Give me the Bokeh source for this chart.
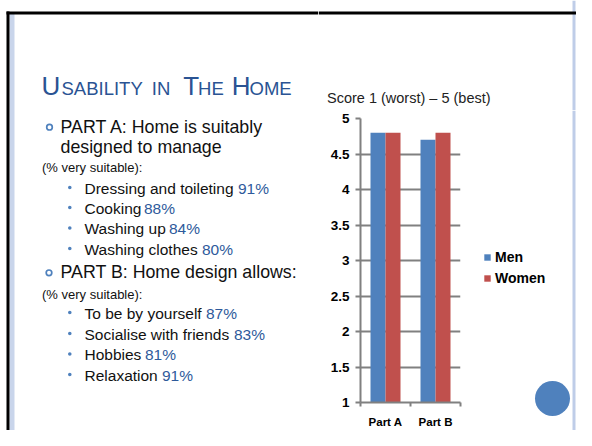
from bokeh.plotting import figure
from bokeh.layouts import row, column
from bokeh.models import (Range1d, FixedTicker, NumeralTickFormatter, CustomJSTickFormatter,
                          ColumnDataSource, Legend, LegendItem)
from bokeh.core.properties import value
from bokeh.embed import file_html
from bokeh.resources import INLINE

# ---------------- data ----------------
categories = ["Part A", "Part B"]
men = [4.8, 4.7]
women = [4.8, 4.8]
series_names = ["Men", "Women"]
y_ticks = [1, 1.5, 2, 2.5, 3, 3.5, 4, 4.5, 5]
chart_title = "Score 1 (worst) \u2013 5 (best)"

part_a_heading = ["PART A: Home is suitably", "designed to manage"]
part_a_items = ["Dressing and toileting", "Cooking", "Washing up", "Washing clothes"]
part_a_pct = [91, 88, 84, 80]
part_b_heading = ["PART B: Home design allows:"]
part_b_items = ["To be by yourself", "Socialise with friends", "Hobbies", "Relaxation"]
part_b_pct = [87, 83, 81, 91]
sub_note = "(% very suitable):"
title_big = ["U", "T", "H"]
title_small = ["SABILITY", "IN", "HE", "OME"]

# ---------------- layout (pixel positions on the slide) ----------------
W, H = 576, 430
LEFT_W = 318          # left text panel width
TOP_H = 110           # top strip height over the chart
CHART_R = 476         # right edge of chart canvas
BASE_SHIFT = 0.33     # baseline correction (fraction of font size)
title_big_x = [41, 182.7, 231.3]
title_small_x = [61, 151.3, 197.6, 249]
title_base = 94
pa_head_base = [132, 152]
pa_note_base = 171
pa_item_base = [193, 213, 233.5, 254]
pa_pct_x = [237.5, 143.5, 168.5, 201.5]
pb_head_base = [277]
pb_note_base = 298.5
pb_item_base = [318, 339, 359.5, 380]
pb_pct_x = [205.5, 233.5, 144.5, 161.5]

FONT = "Liberation Sans"
TXT = "#111111"
BLUE_TITLE = "#2A5393"
BLUE_PCT = "#2E5A9B"
BULLET = "#4F81BD"
MEN_C = "#4F81BD"
WOMEN_C = "#C0504D"
GRID = "#808080"
STRIPE = "#BFCDE8"
STRIPE_DARK = "#5B7DB8"


def panel(x0, x1, y0, y1):
    f = figure(width=x1 - x0, height=y1 - y0, x_range=Range1d(x0, x1), y_range=Range1d(y1, y0),
               x_axis_type=None, y_axis_type=None, output_backend="svg", toolbar_location=None,
               min_border=0, min_border_left=0, min_border_right=0, min_border_top=0,
               min_border_bottom=0)
    f.outline_line_color = None
    f.background_fill_color = "white"
    f.border_fill_color = "white"
    f.frame_align = False
    return f


def boxes(f, spec):
    f.quad(left=[s[0] for s in spec], right=[s[1] for s in spec],
           top=[s[2] for s in spec], bottom=[s[3] for s in spec],
           fill_color=[s[4] for s in spec], line_color=None)


def text(f, xs, ys, texts, size, color):
    f.text(x=xs, y=[y - BASE_SHIFT * size for y in ys], text=texts, text_font=value(FONT),
           text_font_size=value(f"{size}px"), text_color=color,
           text_baseline="alphabetic", text_align="left")


def right_stripes(y0, y1):
    return [(572, 575, y0, y1, STRIPE), (578, 583, y0, y1, STRIPE),
            (583, 584.5, y0, y1, STRIPE_DARK), (584.5, 592, y0, y1, STRIPE)]


# ---------- left text panel ----------
left = panel(0, LEFT_W, 0, H)
boxes(left, [(9, 14, 13, H, "#C9D5EB"), (6, 9, 11, H, "black"), (6, LEFT_W, 11, 14, "black")])
text(left, title_big_x, [title_base] * len(title_big), title_big, 26, BLUE_TITLE)
text(left, title_small_x, [title_base] * len(title_small), title_small, 18.5, BLUE_TITLE)

left.circle(x=[49, 48.5], y=[126.7, 272.3], radius=2.8, fill_color=None,
            line_color=BULLET, line_width=1.7)
text(left, [60] * 3, pa_head_base + pb_head_base, part_a_heading + part_b_heading, 17.8, TXT)
text(left, [41.5, 41.5], [pa_note_base, pb_note_base], [sub_note, sub_note], 13, TXT)

items = part_a_items + part_b_items
bases = pa_item_base + pb_item_base
pcts = [f"{v}%" for v in part_a_pct + part_b_pct]
left.circle(x=[69.3] * len(bases), y=[b - 6 for b in bases], radius=1.8,
            fill_color=BULLET, line_color=None)
text(left, [84] * len(items), bases, items, 15.5, TXT)
text(left, pa_pct_x + pb_pct_x, bases, pcts, 15.5, BLUE_PCT)

# ---------- top strip above chart ----------
top = panel(LEFT_W, W, 0, TOP_H)
boxes(top, right_stripes(0, TOP_H) + [(LEFT_W, 592, 11, 14, "black")])
text(top, [326.5], [102], [chart_title], 14.5, "#222222")

# ---------- chart ----------
p = figure(width=CHART_R - LEFT_W, height=H - TOP_H,
           x_range=Range1d(0, len(categories)), y_range=Range1d(1, 5),
           output_backend="svg", toolbar_location=None,
           min_border_left=42, min_border_right=16, min_border_top=8, min_border_bottom=22)
p.outline_line_color = None
p.background_fill_color = "white"
p.border_fill_color = "white"
p.frame_align = False

centers = [i + 0.5 for i in range(len(categories))]
src = ColumnDataSource(dict(xm=[c - 0.15 for c in centers], xw=[c + 0.15 for c in centers],
                            men=men, women=women))
p.vbar(x="xm", width=0.3, top="men", bottom=1, source=src, fill_color=MEN_C, line_color=None)
p.vbar(x="xw", width=0.3, top="women", bottom=1, source=src, fill_color=WOMEN_C, line_color=None)

p.yaxis.ticker = FixedTicker(ticks=y_ticks)
p.yaxis.formatter = NumeralTickFormatter(format="0.[0]")
p.yaxis.axis_line_color = GRID
p.yaxis.axis_line_width = 2
p.yaxis.major_tick_line_color = GRID
p.yaxis.major_tick_line_width = 2
p.yaxis.major_tick_out = 5
p.yaxis.major_tick_in = 0
p.yaxis.minor_tick_line_color = None
p.yaxis.major_label_standoff = 6
p.yaxis.major_label_text_font = FONT
p.yaxis.major_label_text_font_size = "13.5px"
p.yaxis.major_label_text_font_style = "bold"
p.yaxis.major_label_text_color = "black"

p.xaxis.ticker = FixedTicker(ticks=centers, minor_ticks=list(range(len(categories) + 1)))
p.xaxis.formatter = CustomJSTickFormatter(args=dict(cats=categories),
                                          code="return cats[Math.floor(tick)] || '';")
p.xaxis.axis_line_color = GRID
p.xaxis.axis_line_width = 2
p.xaxis.major_tick_line_color = None
p.xaxis.major_tick_out = 0
p.xaxis.major_tick_in = 0
p.xaxis.minor_tick_line_color = GRID
p.xaxis.minor_tick_line_width = 2
p.xaxis.minor_tick_out = 4
p.xaxis.minor_tick_in = 0
p.xaxis.major_label_standoff = 9
p.xaxis.major_label_text_font = FONT
p.xaxis.major_label_text_font_size = "11.5px"
p.xaxis.major_label_text_font_style = "bold"
p.xaxis.major_label_text_color = "black"

p.xgrid.grid_line_color = None
p.ygrid.grid_line_color = GRID
p.ygrid.grid_line_width = 2

# ---------- right panel: legend, circle, stripes ----------
right = panel(CHART_R, W, TOP_H, H)
boxes(right, right_stripes(TOP_H, H))
right.circle(x=[552], y=[398], radius=17.5, fill_color="#4F81BD", line_color=None)
# legend swatches: off-canvas proxies carrying the series colours
rm = right.quad(left=[-20], right=[-10], top=[-20], bottom=[-10], fill_color=MEN_C, line_color=None)
rw = right.quad(left=[-20], right=[-10], top=[-20], bottom=[-10], fill_color=WOMEN_C, line_color=None)
lg = Legend(items=[LegendItem(label=series_names[0], renderers=[rm]),
                   LegendItem(label=series_names[1], renderers=[rw])],
            location=(483 - CHART_R, H - 288.5))
lg.glyph_width = 8
lg.glyph_height = 8
lg.label_standoff = 4
lg.label_height = 21
lg.spacing = 0
lg.padding = 0
lg.margin = 0
lg.border_line_color = None
lg.background_fill_alpha = 0
lg.label_text_font = FONT
lg.label_text_font_size = "14px"
lg.label_text_font_style = "bold"
lg.label_text_color = "black"
right.add_layout(lg)

layout = row(left, column(top, row(p, right)))
open("out.html", "w").write(file_html(layout, INLINE))
